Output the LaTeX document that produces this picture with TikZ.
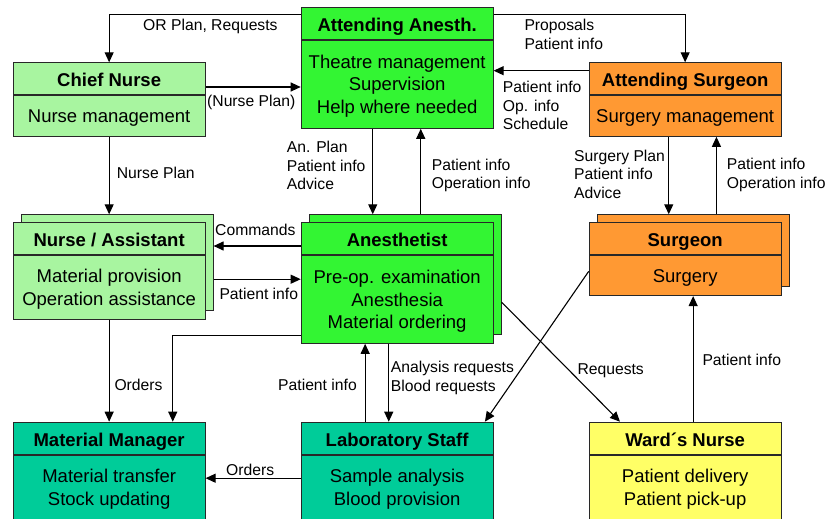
\documentclass[tikz,border=0pt]{standalone}
\usepackage{fontspec}
\setmainfont{Liberation Sans}
\usetikzlibrary{arrows.meta,calc}
\definecolor{lgreen}{RGB}{168,245,160}
\definecolor{bgreen}{RGB}{51,245,51}
\definecolor{orng}{RGB}{255,153,51}
\definecolor{tealc}{RGB}{0,204,153}
\definecolor{ylw}{RGB}{255,255,102}
\definecolor{edgec}{RGB}{40,40,40}
\newcommand{\bodyfont}{\fontsize{18.5}{22.5}\selectfont}
\newcommand{\lblfont}{\fontsize{15.7}{18.8}\selectfont}
\begin{document}
\begin{tikzpicture}[x=1pt,y=-1pt,
 hdr/.style={draw=edgec, line width=0.9pt, anchor=north west, minimum width=192pt, minimum height=32pt, inner sep=0pt, text height=16pt, text depth=0pt, font=\bodyfont\bfseries},
 bdy/.style={draw=edgec, line width=0.9pt, anchor=north west, minimum width=192pt, inner sep=0pt},
 btxt/.style={inner sep=0pt, align=center, font=\bodyfont},
 backbox/.style={draw=edgec, line width=0.9pt, anchor=north west, minimum width=192pt, inner sep=0pt},
 arr/.style={draw=black, line width=1.1pt, -{Triangle[length=10pt,width=9pt]}},
 lbl/.style={inner sep=0pt, align=left, font=\lblfont, anchor=west},
 lbs/.style={inner sep=0pt, font=\lblfont, anchor=base west}]
\useasboundingbox (0,0) rectangle (828,519);

% boxes
\node[hdr, fill=lgreen] (cnT) at (12.7,62.3) {Chief Nurse};
\node[bdy, fill=lgreen, minimum height=40.7pt] (cn) at (cnT.south west) {};
\node[btxt] (cnX) at ([yshift=-2pt]cn.center) {Nurse management};

\node[hdr, fill=bgreen] (aaT) at (300.7,6.7) {Attending Anesth.};
\node[bdy, fill=bgreen, minimum height=88.3pt] (aa) at (aaT.south west) {};
\node[btxt] (aaX) at ([yshift=-2pt]aa.center) {Theatre management\\Supervision\\Help where needed};

\node[hdr, fill=orng] (asgT) at (588.7,62.3) {Attending Surgeon};
\node[bdy, fill=orng, minimum height=40.7pt] (asg) at (asgT.south west) {};
\node[btxt] (asgX) at ([yshift=-2pt]asg.center) {Surgery management};

\node[backbox, fill=lgreen, minimum height=96pt] (naB) at (20.7,214.3) {};
\node[hdr, fill=lgreen] (naT) at (12.7,222.3) {Nurse / Assistant};
\node[bdy, fill=lgreen, minimum height=63.4pt] (na) at (naT.south west) {};
\node[btxt] (naX) at ([yshift=-2pt]na.center) {Material provision\\Operation assistance};

\node[backbox, fill=bgreen, minimum height=120pt] (anB) at (308.7,214.3) {};
\node[hdr, fill=bgreen] (anT) at (300.7,222.3) {Anesthetist};
\node[bdy, fill=bgreen, minimum height=87.7pt] (an) at (anT.south west) {};
\node[btxt] (anX) at ([yshift=-2pt]an.center) {Pre-op. examination\\Anesthesia\\Material ordering};

\node[backbox, fill=orng, minimum height=72pt] (sgB) at (596.7,214.3) {};
\node[hdr, fill=orng] (sgT) at (588.7,222.3) {Surgeon};
\node[bdy, fill=orng, minimum height=40pt] (sg) at (sgT.south west) {};
\node[btxt] (sgX) at ([yshift=-2pt]sg.center) {Surgery};

\node[hdr, fill=tealc] (mmT) at (12.7,421.7) {Material Manager};
\node[bdy, fill=tealc, minimum height=65pt] (mm) at (mmT.south west) {};
\node[btxt] (mmX) at ([yshift=-1.5pt]mm.center) {Material transfer\\Stock updating};

\node[hdr, fill=tealc] (lsT) at (300.7,421.7) {Laboratory Staff};
\node[bdy, fill=tealc, minimum height=65pt] (ls) at (lsT.south west) {};
\node[btxt] (lsX) at ([yshift=-1.5pt]ls.center) {Sample analysis\\Blood provision};

\node[hdr, fill=ylw] (wnT) at (588.7,421.7) {Ward´s Nurse};
\node[bdy, fill=ylw, minimum height=65pt] (wn) at (wnT.south west) {};
\node[btxt] (wnX) at ([yshift=-1.5pt]wn.center) {Patient delivery\\Patient pick-up};

% connectors
\draw[arr] ([yshift=-8pt]aaT.north west) -| (cnT.north);
\draw[arr] ([yshift=-8pt]aaT.north east) -| (asgT.north);
\coordinate (p1) at ([yshift=-24.7pt]cnT.north east);
\draw[arr] (p1) -- (p1 -| aa.west);
\coordinate (p2) at ([yshift=-8.4pt]asgT.north west);
\draw[arr] (p2) -- (p2 -| aa.east);
\draw[arr] (cn.south) -- (naB.north -| cn.south);
\coordinate (p3) at ([xshift=-24.4pt]aa.south);
\draw[arr] (p3) -- (p3 |- anB.north);
\coordinate (p4) at ([xshift=23.6pt]aa.south);
\draw[arr] (p4 |- anB.north) -- (p4);
\coordinate (p5) at ([xshift=-16.4pt]asg.south);
\draw[arr] (p5) -- (p5 |- sgB.north);
\coordinate (p6) at ([xshift=31.3pt]asg.south);
\draw[arr] (p6 |- sgB.north) -- (p6);
\coordinate (p7) at ([yshift=-23.7pt]anT.north west);
\draw[arr] (p7) -- (p7 -| naB.east);
\coordinate (p8) at ([yshift=-24pt]na.north east);
\draw[arr] (p8 -| naB.east) -- (p8 -| an.west);
\draw[arr] (na.south) -- (mmT.north);
\coordinate (p9) at ([yshift=8pt]an.south west);
\coordinate (p10) at ([xshift=63.6pt]mmT.north);
\draw[arr] (p9) -| (p10);
\coordinate (p11) at ([xshift=-32pt]lsT.north);
\draw[arr] (p11) -- (p11 |- an.south);
\coordinate (p12) at ([xshift=-8.4pt]lsT.north);
\draw[arr] (p12 |- an.south) -- (p12);
\coordinate (p13) at ([yshift=-23.6pt]ls.north west);
\draw[arr] (p13) -- (p13 -| mm.east);
\draw[arr] ([yshift=4.3pt]sg.west) -- ([xshift=-8.7pt]lsT.north east);
\draw[arr] ([yshift=-27.4pt]anB.east) -- ([xshift=31.3pt]wnT.north west);
\draw[arr] (wnT.north -| sgB.south) -- (sg.south -| sgB.south);

% labels
\node[lbs] (l1) at (143,30.8) {OR Plan, Requests};
\node[lbl] (l2) at (524.3,34.5) {Proposals\\Patient info};
\node[lbs] (l3) at (207,106.8) {(Nurse Plan)};
\node[lbl] (l4) at (502.7,105.5) {Patient info\\Op. info\\Schedule};
\node[lbs] (l5) at (116.7,178.5) {Nurse Plan};
\node[lbl] (l6) at (286.7,165.5) {An. Plan\\Patient info\\Advice};
\node[lbl] (l7) at (431.7,175.5) {Patient info\\Operation info};
\node[lbl] (l8) at (574,174.3) {Surgery Plan\\Patient info\\Advice};
\node[lbl] (l9) at (726.7,175) {Patient info\\Operation info};
\node[lbs] (l10) at (215,235) {Commands};
\node[lbs] (l11) at (219.3,299) {Patient info};
\node[lbs] (l12) at (114.3,390) {Orders};
\node[lbs] (l13) at (278,390) {Patient info};
\node[lbl] (l14) at (390.7,378.3) {Analysis requests\\Blood requests};
\node[lbs] (l15) at (577.3,374) {Requests};
\node[lbs] (l16) at (702.3,365.7) {Patient info};
\node[lbs] (l17) at (226,475) {Orders};
\end{tikzpicture}
\end{document}
